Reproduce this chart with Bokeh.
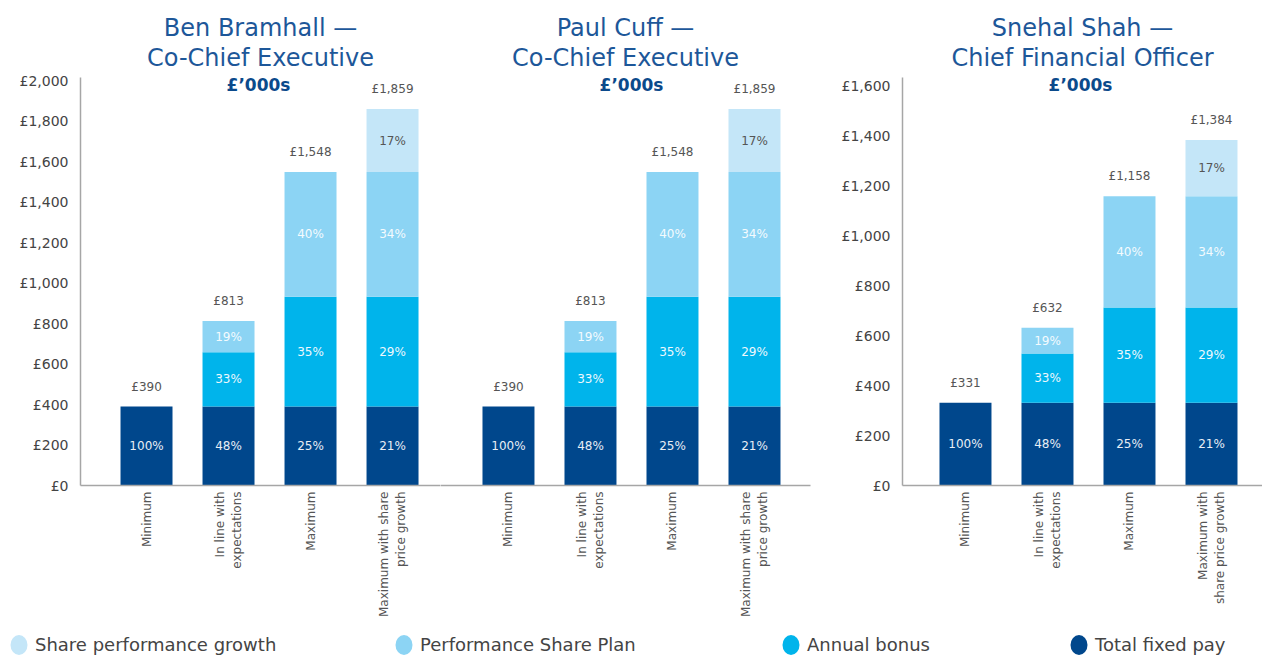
import math
import numpy as np
from bokeh.plotting import figure
from bokeh.models import ColumnDataSource, Range1d, FixedTicker, Title, Label, Legend, LegendItem
from bokeh.layouts import row, column
from bokeh.embed import file_html
from bokeh.resources import INLINE
from bokeh.core.properties import value

FONT = "DejaVu Sans"

# ---------------- data ----------------
series = ["Total fixed pay", "Annual bonus", "Performance Share Plan", "Share performance growth"]
colors = ["#00478c", "#00b4eb", "#8cd4f4", "#c4e6f8"]
pct_text_colors = ["#e8eef5", "#eef8fd", "#f4fbfe", "#555555"]

labels_ceo = ["Minimum", "In line with\nexpectations", "Maximum", "Maximum with share\nprice growth"]
labels_cfo = ["Minimum", "In line with\nexpectations", "Maximum", "Maximum with\nshare price growth"]

# Ben Bramhall (£'000s)
bb_fixed = [390, 390, 390, 390]
bb_bonus = [0, 268, 542, 542]
bb_psp = [0, 155, 616, 616]
bb_spg = [0, 0, 0, 311]
bb_total = [390, 813, 1548, 1859]

# Paul Cuff (£'000s)
pc_fixed = [390, 390, 390, 390]
pc_bonus = [0, 268, 542, 542]
pc_psp = [0, 155, 616, 616]
pc_spg = [0, 0, 0, 311]
pc_total = [390, 813, 1548, 1859]

# Snehal Shah (£'000s)
ss_fixed = [331, 331, 331, 331]
ss_bonus = [0, 198, 382, 382]
ss_psp = [0, 103, 445, 445]
ss_spg = [0, 0, 0, 226]
ss_total = [331, 632, 1158, 1384]

# percentage labels as printed
pct_fixed = ["100%", "48%", "25%", "21%"]
pct_bonus = ["", "33%", "35%", "29%"]
pct_psp = ["", "19%", "40%", "34%"]
pct_spg = ["", "", "", "17%"]

ticks_ceo = [0, 200, 400, 600, 800, 1000, 1200, 1400, 1600, 1800, 2000]
ticks_cfo = [0, 200, 400, 600, 800, 1000, 1200, 1400, 1600]

TITLE_COLOR = "#1d5799"
SUB_COLOR = "#0b4a8b"
AXIS_COLOR = "#a6a6a6"


def panel(fixed, bonus, psp, spg, totals, tick_labels, name_line, role_line,
          y_end, y_ticks, width, left, right, x_start, x_end, show_y, shift):
    x = np.arange(len(fixed))
    p = figure(width=width, height=625,
               x_range=Range1d(x_start, x_end), y_range=Range1d(0, y_end),
               output_backend="svg", toolbar_location=None,
               min_border_left=left, min_border_right=right,
               min_border_top=77, min_border_bottom=140,
               outline_line_color=None,
               y_axis_location="left" if show_y else None)
    p.grid.visible = False

    bottom = np.zeros(len(x))
    for seg, col, pct, tcol in zip([fixed, bonus, psp, spg], colors,
                                    [pct_fixed, pct_bonus, pct_psp, pct_spg],
                                    pct_text_colors):
        seg = np.array(seg, dtype=float)
        top = bottom + seg
        src = ColumnDataSource(dict(x=x, bottom=bottom, top=top,
                                    mid=(bottom + top) / 2, label=pct))
        p.vbar(x="x", bottom="bottom", top="top", width=0.634, fill_color=col,
               line_color=None, source=src)
        p.text(x="x", y="mid", text="label", source=src, text_align="center",
               text_baseline="middle", text_color=tcol, text_font=value(FONT),
               text_font_size="12px")
        bottom = top

    tsrc = ColumnDataSource(dict(x=x, y=totals, label=["£{:,}".format(t) for t in totals]))
    p.text(x="x", y="y", text="label", source=tsrc, y_offset=-20,
           text_align="center", text_baseline="middle", text_color="#555555",
           text_font=value(FONT), text_font_size="12px")

    # x axis
    xa = p.xaxis[0]
    xa.ticker = FixedTicker(ticks=list(x))
    xa.major_label_overrides = {int(i): lab for i, lab in zip(x, tick_labels)}
    xa.major_label_orientation = math.pi / 2
    xa.major_tick_line_color = None
    xa.major_tick_out = 0
    xa.major_tick_in = 0
    xa.minor_tick_line_color = None
    xa.axis_line_color = AXIS_COLOR
    xa.axis_line_width = 1.5
    xa.major_label_text_font = FONT
    xa.major_label_text_font_size = "12px"
    xa.major_label_text_color = "#555555"
    xa.major_label_standoff = 6

    if show_y:
        ya = p.yaxis[0]
        ya.ticker = FixedTicker(ticks=y_ticks)
        ya.major_label_overrides = {t: "£{:,}".format(t) for t in y_ticks}
        ya.major_tick_line_color = None
        ya.major_tick_out = 0
        ya.major_tick_in = 0
        ya.minor_tick_line_color = None
        ya.axis_line_color = AXIS_COLOR
        ya.axis_line_width = 1.5
        ya.major_label_text_font = FONT
        ya.major_label_text_font_size = "14px"
        ya.major_label_text_color = "#444444"
        ya.major_label_standoff = 12

    p.title.text = ""
    p.add_layout(Title(text=role_line, align="center", offset=shift,
                       text_font=FONT, text_font_size="24px",
                       text_font_style="normal", text_color=TITLE_COLOR,
                       standoff=11), "above")
    p.add_layout(Title(text=name_line, align="center", offset=shift,
                       text_font=FONT, text_font_size="24px",
                       text_font_style="normal", text_color=TITLE_COLOR,
                       standoff=-10), "above")
    p.add_layout(Label(x=(x_start + x_end) / 2, y=y_end * (485 - 84) / 408,
                       x_offset=shift, text="£’000s", text_font=FONT,
                       text_font_size="17px", text_font_style="bold",
                       text_color=SUB_COLOR, text_align="center",
                       text_baseline="middle"))
    return p


pa = panel(bb_fixed, bb_bonus, bb_psp, bb_spg, bb_total, labels_ceo,
           "Ben Bramhall —", "Co-Chief Executive", 2015, ticks_ceo,
           440, 80, 0, -0.805, 3.585, True, -2)
pb = panel(pc_fixed, pc_bonus, pc_psp, pc_spg, pc_total, labels_ceo,
           "Paul Cuff —", "Co-Chief Executive", 2015, ticks_ceo,
           390, 0, 20, -0.829, 3.683, False, 6)
pc = panel(ss_fixed, ss_bonus, ss_psp, ss_spg, ss_total, labels_cfo,
           "Snehal Shah —", "Chief Financial Officer", 1634, ticks_cfo,
           432, 72, 0, -0.768, 3.622, True, -2)

# legend strip
lg = figure(width=1262, height=32, x_range=Range1d(0, 1), y_range=Range1d(0, 1),
            output_backend="svg", toolbar_location=None, min_border=0,
            outline_line_color=None, x_axis_location=None, y_axis_location=None)
lg.grid.visible = False
legend_order = [3, 2, 1, 0]
legend_x = [6, 391, 778, 1066]
for i, lx in zip(legend_order, legend_x):
    r = lg.ellipse(x=[np.nan], y=[np.nan], width=17, height=20,
                   width_units="screen", height_units="screen",
                   fill_color=colors[i], line_color=None)
    leg = Legend(items=[LegendItem(label=series[i], renderers=[r])],
                 location=(lx, 0), orientation="horizontal",
                 glyph_width=25, glyph_height=25, padding=0, margin=0,
                 border_line_color=None, background_fill_alpha=0,
                 label_standoff=4, label_text_font=FONT,
                 label_text_font_size="18px", label_text_color="#444444")
    lg.add_layout(leg)

layout = column(row(pa, pb, pc), lg)
open("out.html", "w").write(file_html(layout, INLINE))
